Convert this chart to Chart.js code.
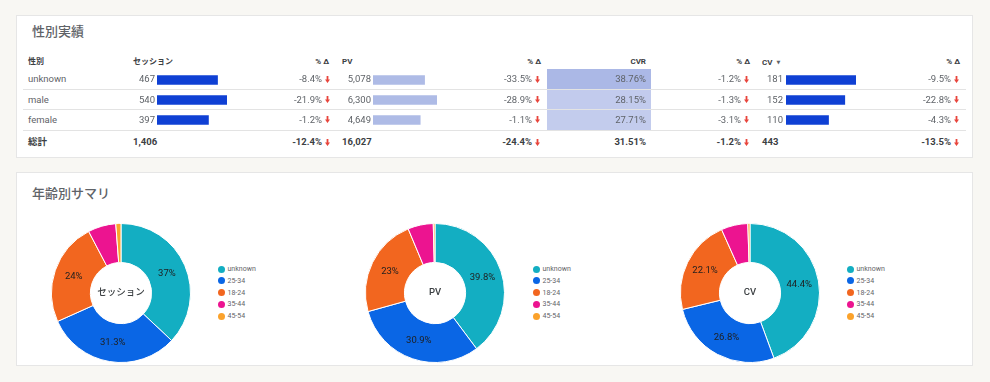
<!DOCTYPE html>
<html><head><meta charset="utf-8">
<script src="https://cdn.jsdelivr.net/npm/chart.js@4.4.0/dist/chart.umd.min.js"></script>
<style>
html,body{margin:0;padding:0;}
body{width:990px;height:382px;background:#f8f7f3;position:relative;overflow:hidden;font-family:Roboto,"Noto Sans CJK JP",sans-serif;}
.card{position:absolute;background:#fff;border:1px solid #e6e6e6;box-sizing:border-box;}
.title{position:absolute;font-size:13px;color:#5f6368;font-family:"Noto Sans CJK JP",Roboto,sans-serif;font-weight:500;line-height:16px;white-space:nowrap;}
.t{position:absolute;white-space:pre;height:12px;line-height:12px;font-size:9.5px;color:#5f6368;z-index:3;}
.h{font-size:8px;font-weight:700;color:#3c4043;font-family:Roboto,"Noto Sans CJK JP",sans-serif;}
.b{font-weight:700;color:#3c4043;}
.tri{font-size:5px;margin-left:4px;color:#5f6368;font-family:"DejaVu Sans";vertical-align:1px;}
.line{position:absolute;left:23px;width:943px;height:1px;background:#e3e3e3;z-index:2;}
canvas{position:absolute;z-index:1;}
.arrow{position:absolute;z-index:3;}
.lg{position:absolute;z-index:3;font-size:7px;color:#5f6368;line-height:10px;height:10px;white-space:nowrap;}
.dot{position:absolute;width:7px;height:7px;border-radius:50%;}
</style>
</head><body>
<div class="card" style="left:16px;top:15px;width:957px;height:143px;"></div>
<div class="card" style="left:16px;top:172px;width:957px;height:194px;"></div>
<div class="title" style="left:32px;top:23px;">性別実績</div>
<div class="title" style="left:32px;top:185px;">年齢別サマリ</div>
<div id="root"></div>
<script>
// ---- data ----
const genders = ['unknown', 'male', 'female'];
const sessions = [467, 540, 397];
const sessionsDelta = [-8.4, -21.9, -1.2];
const pv = [5078, 6300, 4649];
const pvDelta = [-33.5, -28.9, -1.1];
const cvr = [38.76, 28.15, 27.71];
const cvrDelta = [-1.2, -1.3, -3.1];
const cv = [181, 152, 110];
const cvDelta = [-9.5, -22.8, -4.3];
const totalLabel = '総計';
const totalValues = [1406, 16027, 31.51, 443];      // sessions, PV, CVR, CV
const totalDeltas = [-12.4, -24.4, -1.2, -13.5];
const headers = ['性別', 'セッション', '% Δ', 'PV', '% Δ', 'CVR', '% Δ', 'CV ▾', '% Δ'];

const ageGroups = ['unknown', '25-34', '18-24', '35-44', '45-54'];
const ageSessions = [37.0, 31.3, 24.0, 6.5, 1.2];
const agePV = [39.8, 30.9, 23.0, 5.9, 0.4];
const ageCV = [44.4, 26.8, 22.1, 6.2, 0.5];
const donutTitles = ['セッション', 'PV', 'CV'];

// ---- styles ----
const ageColors = ['#13aec2', '#0a66e5', '#f2661f', '#ec1490', '#fba22b'];
const darkBar = '#0f40d4';
const lightBar = '#aebbe6';
const heatRGB = [171, 184, 230];

const root = document.getElementById('root');
function txt(s, cls, cy, left, right) {
  const d = document.createElement('div');
  d.className = 't ' + (cls || '');
  if (s.endsWith(' ▾')) {
    d.textContent = s.slice(0, -2);
    const sp = document.createElement('span'); sp.className = 'tri'; sp.textContent = '▼';
    d.appendChild(sp);
  } else d.textContent = s;
  d.style.top = (cy - 6) + 'px';
  if (left != null) d.style.left = left + 'px';
  else d.style.right = (990 - right) + 'px';
  root.appendChild(d);
  return d;
}
function arrow(x, cy) {
  const ns = 'http://www.w3.org/2000/svg';
  const s = document.createElementNS(ns, 'svg');
  s.setAttribute('width', '5'); s.setAttribute('height', '7');
  s.setAttribute('class', 'arrow');
  s.style.left = x + 'px'; s.style.top = (cy - 3.5) + 'px';
  const p = document.createElementNS(ns, 'path');
  p.setAttribute('d', 'M1.6 0H3.4V3.6H5L2.5 7L0 3.6H1.6Z');
  p.setAttribute('fill', '#e8453c');
  s.appendChild(p); root.appendChild(s);
}
const fmtInt = v => v.toLocaleString('en-US');
const fmtPct1 = v => v.toFixed(1) + '%';
const fmtPct2 = v => v.toFixed(2) + '%';

// layout
const headerY = 61.7, rowY = [79.3, 99.7, 119.8], totalY = 142;
const deltaRight = [322, 532, 741, 951];

// header
const hPos = [[28, null], [133, null], [null, 329], [342, null], [null, 541], [null, 646], [null, 750], [762, null], [null, 960]];
headers.forEach((h, i) => txt(h, 'h', headerY, hPos[i][0], hPos[i][1]));

// rows
genders.forEach((g, i) => {
  const y = rowY[i];
  txt(g, '', y, 28, null);
  txt(fmtInt(sessions[i]), '', y, null, 155);
  txt(fmtInt(pv[i]), '', y, null, 371);
  txt(fmtPct2(cvr[i]), '', y, null, 646);
  txt(fmtInt(cv[i]), '', y, null, 783);
  [sessionsDelta[i], pvDelta[i], cvrDelta[i], cvDelta[i]].forEach((d, k) => {
    txt(fmtPct1(d), '', y, null, deltaRight[k]);
    arrow(deltaRight[k] + 3, y);
  });
});
// totals
txt(totalLabel, 'b', totalY, 28, null);
txt(fmtInt(totalValues[0]), 'b', totalY, 133, null);
txt(fmtInt(totalValues[1]), 'b', totalY, 342, null);
txt(fmtPct2(totalValues[2]), 'b', totalY, null, 646);
txt(fmtInt(totalValues[3]), 'b', totalY, 762, null);
totalDeltas.forEach((d, k) => { txt(fmtPct1(d), 'b', totalY, null, deltaRight[k]); arrow(deltaRight[k] + 3, totalY); });

// separators
[89, 109, 130].forEach(y => { const l = document.createElement('div'); l.className = 'line'; l.style.top = y + 'px'; root.appendChild(l); });

function mkCanvas(left, top, w, h) {
  const c = document.createElement('canvas');
  c.width = w; c.height = h;
  c.style.left = left + 'px'; c.style.top = top + 'px';
  c.style.width = w + 'px'; c.style.height = h + 'px';
  root.appendChild(c);
  return c;
}
const baseOpts = {
  responsive: false, animation: false, events: [],
  plugins: { legend: { display: false }, tooltip: { enabled: false } },
  layout: { padding: 0 }
};
function barChart(left, width, data, color) {
  new Chart(mkCanvas(left, 69.7, width, 60), {
    type: 'bar',
    data: { labels: genders, datasets: [{ data: data, backgroundColor: color, barThickness: 9, borderWidth: 0 }] },
    options: Object.assign({}, baseOpts, {
      indexAxis: 'y',
      scales: { x: { display: false, min: 0, max: Math.max(...data) }, y: { display: false } }
    })
  });
}
barChart(157, 70, sessions, darkBar);
barChart(373, 64, pv, lightBar);
barChart(786, 70, cv, darkBar);

// CVR heat cells (unit-width cells coloured by value)
const cvrMax = Math.max(...cvr);
const heatColors = cvr.map(v => {
  const t = v / cvrMax;
  return 'rgb(' + heatRGB.map(c => Math.round(255 - t * (255 - c))).join(',') + ')';
});
new Chart(mkCanvas(547, 69, 104, 61), {
  type: 'bar',
  data: { labels: genders, datasets: [{ data: cvr.map(() => 1), backgroundColor: heatColors, barPercentage: 1, categoryPercentage: 1, borderWidth: 0 }] },
  options: Object.assign({}, baseOpts, {
    indexAxis: 'y',
    scales: { x: { display: false, min: 0, max: 1 }, y: { display: false } }
  })
});

// donuts
function fmtShare(p) { let s = p.toFixed(1); if (s.endsWith('.0')) s = s.slice(0, -2); return s + '%'; }
function labelPlugin(center) {
  return {
    id: 'lbl',
    afterDatasetsDraw(chart) {
      const ctx = chart.ctx;
      const meta = chart.getDatasetMeta(0);
      const vals = chart.data.datasets[0].data;
      const total = vals.reduce((a, b) => a + b, 0);
      ctx.save();
      ctx.textAlign = 'center'; ctx.textBaseline = 'middle';
      ctx.font = '9.5px Roboto';
      ctx.fillStyle = '#1f1f1f';
      meta.data.forEach((arc, i) => {
        const p = vals[i] / total * 100;
        if (p < 10) return;
        const pt = arc.tooltipPosition();
        ctx.fillText(fmtShare(p), pt.x, pt.y);
      });
      const ca = chart.chartArea;
      ctx.font = '500 9.5px Roboto, "Noto Sans CJK JP"';
      ctx.fillStyle = '#3c4043';
      ctx.fillText(center, (ca.left + ca.right) / 2, (ca.top + ca.bottom) / 2);
      ctx.restore();
    }
  };
}
const donutCenters = [121, 435, 750];
const legendDotX = [221, 536, 850];
[ageSessions, agePV, ageCV].forEach((vals, k) => {
  const cx = donutCenters[k];
  new Chart(mkCanvas(cx - 70, 223, 140, 140), {
    type: 'doughnut',
    data: { labels: ageGroups, datasets: [{ data: vals, backgroundColor: ageColors, borderColor: '#ffffff', borderWidth: 1 }] },
    options: Object.assign({}, baseOpts, { cutout: '44%' }),
    plugins: [labelPlugin(donutTitles[k])]
  });
  ageGroups.forEach((g, i) => {
    const y = 269 + i * 11.8;
    const d = document.createElement('div');
    d.className = 'dot'; d.style.background = ageColors[i];
    d.style.left = (legendDotX[k] - 3.5) + 'px'; d.style.top = (y - 3.5) + 'px'; d.style.zIndex = 3;
    root.appendChild(d);
    const t = document.createElement('div');
    t.className = 'lg'; t.textContent = g;
    t.style.left = (legendDotX[k] + 6.5) + 'px'; t.style.top = (y - 5) + 'px';
    root.appendChild(t);
  });
});
</script>
</body></html>
